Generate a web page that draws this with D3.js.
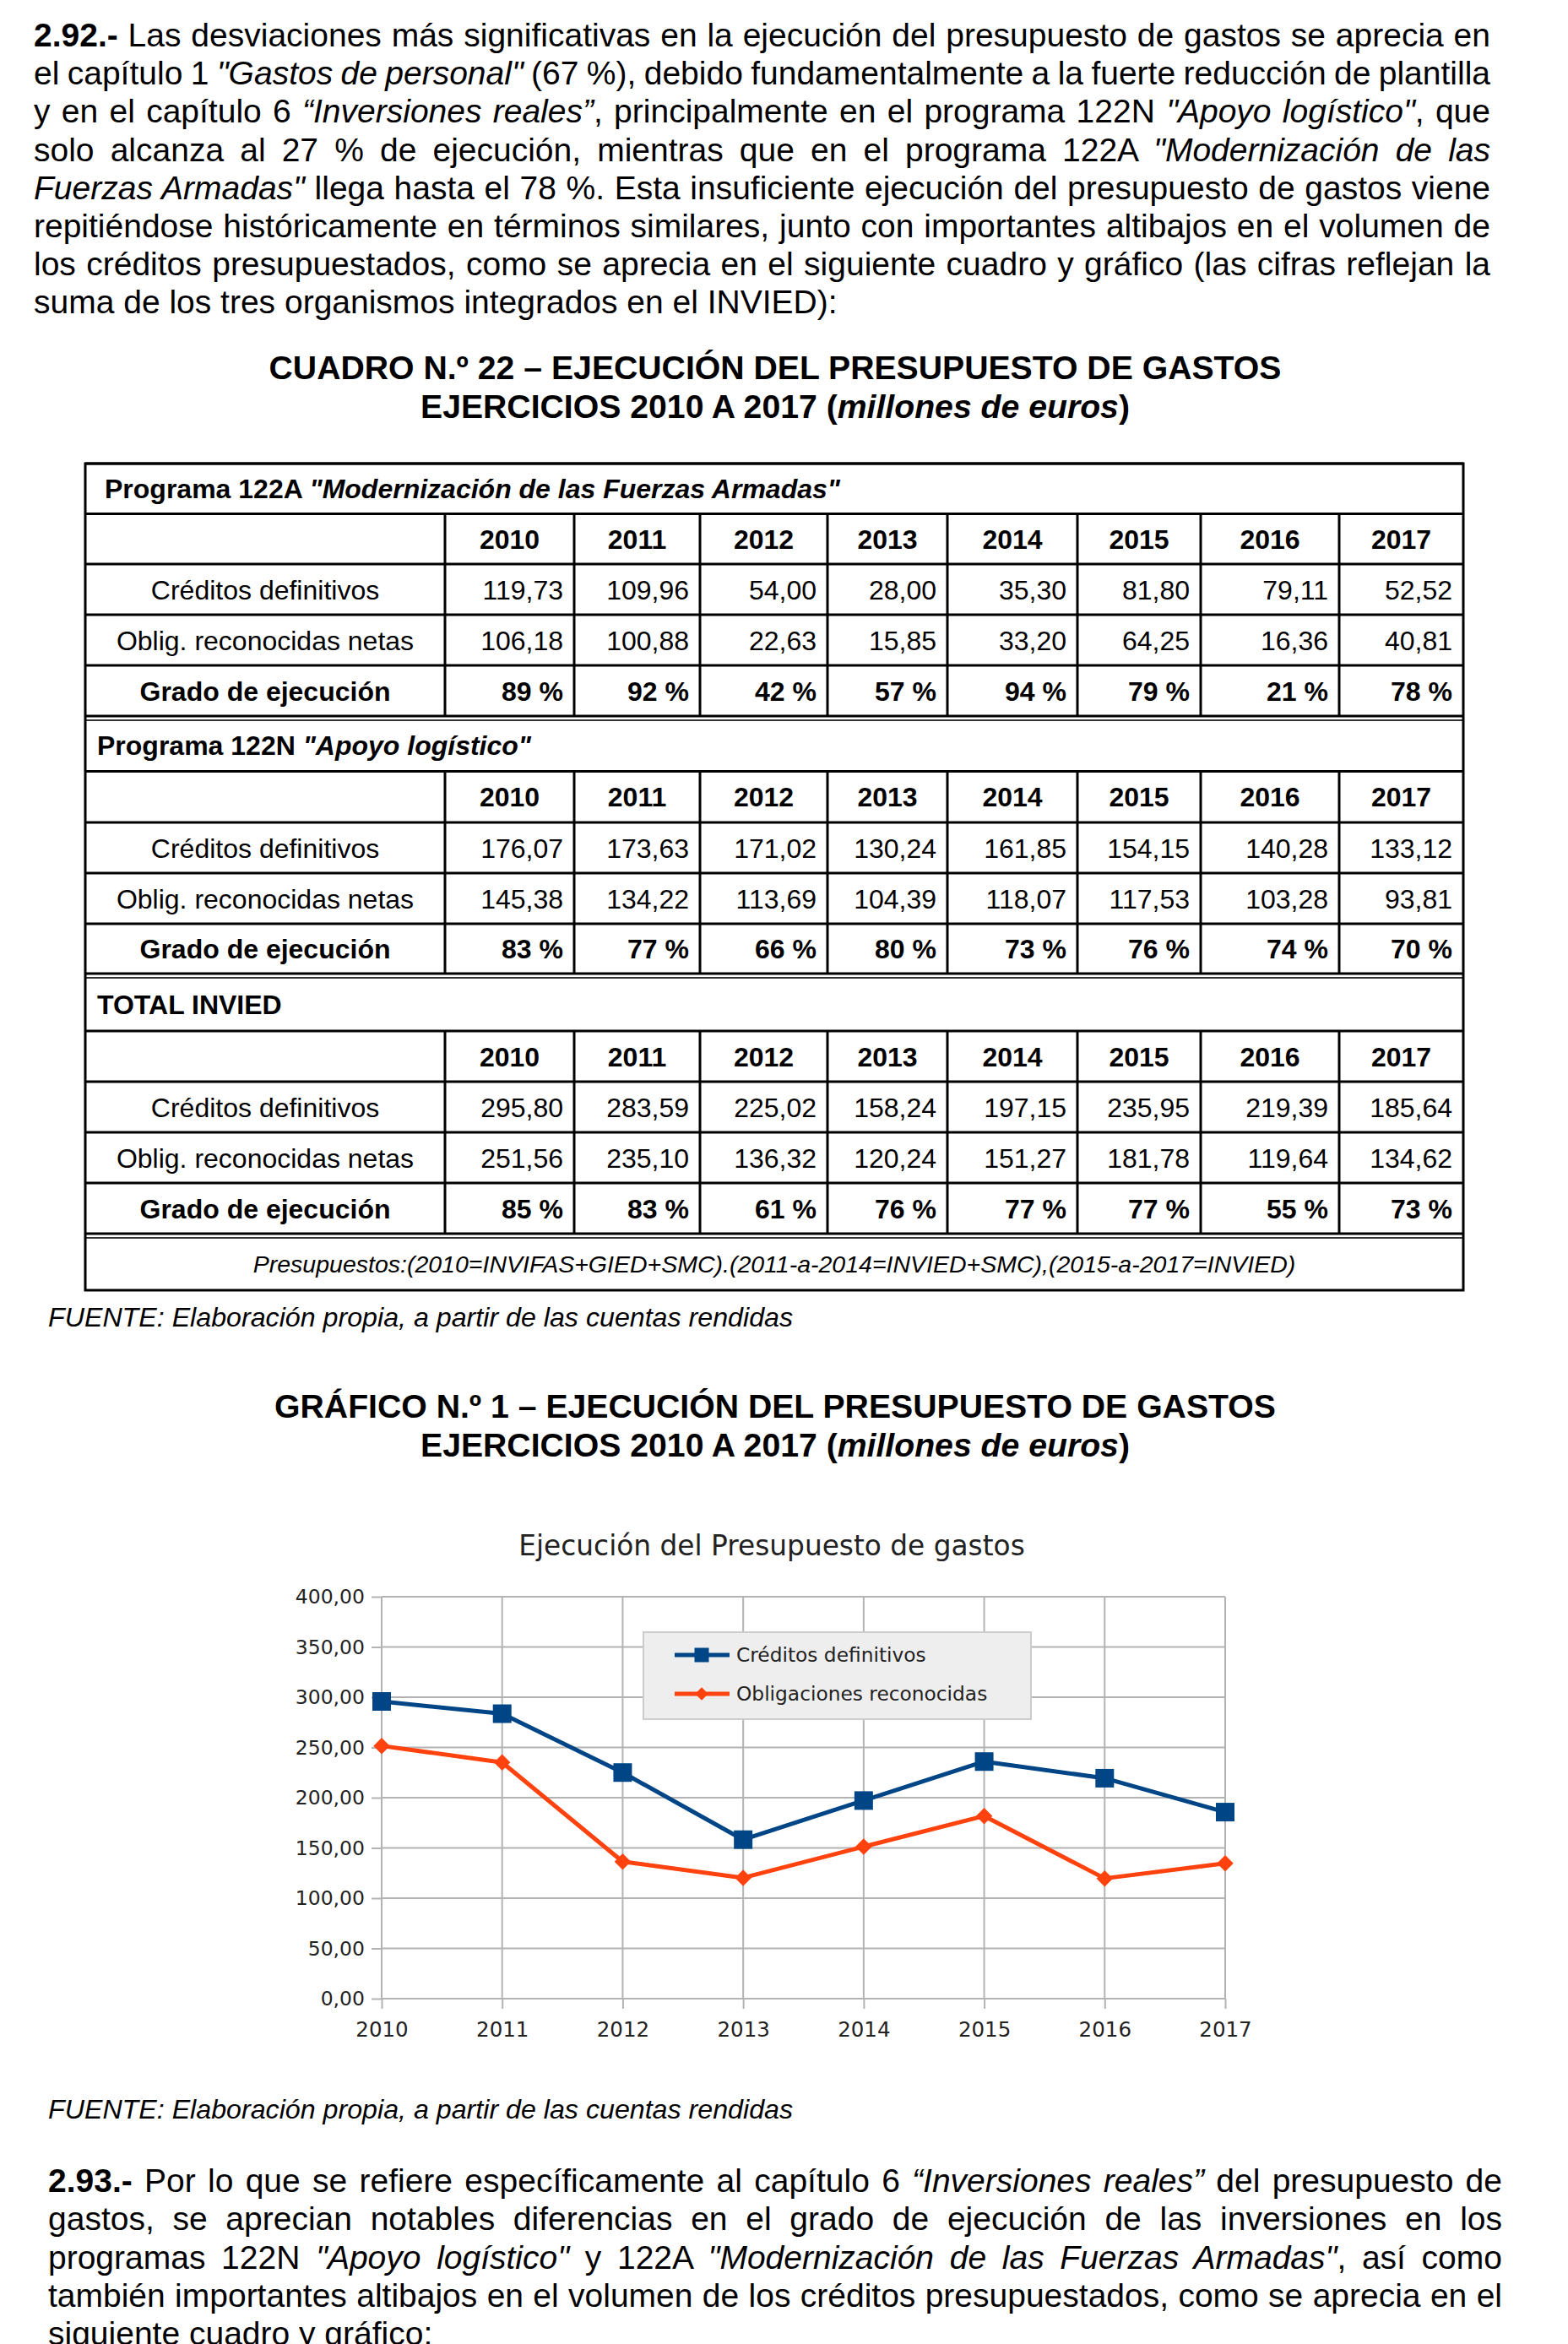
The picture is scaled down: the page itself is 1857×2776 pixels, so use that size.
<!DOCTYPE html>
<html><head><meta charset="utf-8">
<script src="https://cdn.jsdelivr.net/npm/d3@7"></script>
<style>
html,body{margin:0;padding:0;background:#fff;}
svg{display:block;}
text{white-space:pre;}
</style></head>
<body>
<svg id="page" width="1857" height="2776"></svg>
<script>
// ---------------- DATA ----------------
const years = [2010, 2011, 2012, 2013, 2014, 2015, 2016, 2017];
const rowLabels = ["Créditos definitivos", "Oblig. reconocidas netas", "Grado de ejecución"];

const p122ACreditos = [119.73, 109.96, 54.00, 28.00, 35.30, 81.80, 79.11, 52.52];
const p122AOblig    = [106.18, 100.88, 22.63, 15.85, 33.20, 64.25, 16.36, 40.81];
const p122AGrado    = [89, 92, 42, 57, 94, 79, 21, 78];

const p122NCreditos = [176.07, 173.63, 171.02, 130.24, 161.85, 154.15, 140.28, 133.12];
const p122NOblig    = [145.38, 134.22, 113.69, 104.39, 118.07, 117.53, 103.28, 93.81];
const p122NGrado    = [83, 77, 66, 80, 73, 76, 74, 70];

const totalCreditos = [295.80, 283.59, 225.02, 158.24, 197.15, 235.95, 219.39, 185.64];
const totalOblig    = [251.56, 235.10, 136.32, 120.24, 151.27, 181.78, 119.64, 134.62];
const totalGrado    = [85, 83, 61, 76, 77, 77, 55, 73];

const yTickValues = [0, 50, 100, 150, 200, 250, 300, 350, 400];
const seriesNames = ["Créditos definitivos", "Obligaciones reconocidas"];

const para1 = [
 "**2.92.-** Las desviaciones más significativas en la ejecución del presupuesto de gastos se aprecia en",
 "el capítulo 1 _\"Gastos de personal\"_ (67 %), debido fundamentalmente a la fuerte reducción de plantilla",
 "y en el capítulo 6 _“Inversiones reales”_, principalmente en el programa 122N _\"Apoyo logístico\"_, que",
 "solo alcanza al 27 % de ejecución, mientras que en el programa 122A _\"Modernización de las_",
 "_Fuerzas Armadas\"_ llega hasta el 78 %. Esta insuficiente ejecución del presupuesto de gastos viene",
 "repitiéndose históricamente en términos similares, junto con importantes altibajos en el volumen de",
 "los créditos presupuestados, como se aprecia en el siguiente cuadro y gráfico (las cifras reflejan la",
 "suma de los tres organismos integrados en el INVIED):"
];
const para2 = [
 "**2.93.-** Por lo que se refiere específicamente al capítulo 6 _“Inversiones reales”_ del presupuesto de",
 "gastos, se aprecian notables diferencias en el grado de ejecución de las inversiones en los",
 "programas 122N _\"Apoyo logístico\"_ y 122A _\"Modernización de las Fuerzas Armadas\"_, así como",
 "también importantes altibajos en el volumen de los créditos presupuestados, como se aprecia en el",
 "siguiente cuadro y gráfico:"
];
const cuadroTitle1 = "CUADRO N.º 22 – EJECUCIÓN DEL PRESUPUESTO DE GASTOS";
const graficoTitle1 = "GRÁFICO N.º 1 – EJECUCIÓN DEL PRESUPUESTO DE GASTOS";
const titleLine2 = "EJERCICIOS 2010 A 2017 (_millones de euros_)";
const fuente = "FUENTE: Elaboración propia, a partir de las cuentas rendidas";
const footnote = "Presupuestos:(2010=INVIFAS+GIED+SMC).(2011-a-2014=INVIED+SMC),(2015-a-2017=INVIED)";
const chartTitle = "Ejecución del Presupuesto de gastos";

// ---------------- HELPERS ----------------
const svg = d3.select("#page");
const SANS = "'Liberation Sans', Arial, sans-serif";
const CHARTF = "'DejaVu Sans', sans-serif";

function runs(s, allBold) {
  return s.split(/(\*\*[^*]+\*\*|_[^_]+_)/).filter(p => p.length).map(p => {
    if (p.startsWith("**")) return {t: p.slice(2, -2), b: true};
    if (p.length > 1 && p.startsWith("_") && p.endsWith("_")) return {t: p.slice(1, -1), i: true, b: allBold};
    return {t: p, b: allBold};
  });
}
function addText(g, x, y, s, size, opts) {
  opts = opts || {};
  const t = g.append("text").attr("x", x).attr("y", y)
    .attr("font-family", opts.family || SANS).attr("font-size", size)
    .attr("fill", opts.fill || "#000")
    .attr("text-anchor", opts.anchor || "start");
  runs(s, opts.bold).forEach(r => {
    t.append("tspan").attr("font-weight", r.b ? "bold" : "normal")
      .attr("font-style", (r.i || opts.italic) ? "italic" : "normal").text(r.t);
  });
  return t;
}
function justified(g, x, y, width, s, size, justify) {
  const t = addText(g, x, y, s, size);
  if (justify) {
    const nat = t.node().getComputedTextLength();
    const plain = runs(s).map(r => r.t).join("");
    const n = (plain.match(/ /g) || []).length;
    if (n > 0) t.style("word-spacing", ((width - nat) / n) + "px");
  }
}

// ---------------- PARAGRAPHS ----------------
const gp = svg.append("g");
para1.forEach((l, i) => justified(gp, 40, 55 + i * 45.2, 1725, l, 39, i < para1.length - 1));
para2.forEach((l, i) => justified(gp, 57, 2596 + i * 45.3, 1722, l, 39, i < para2.length - 1));

// titles
addText(gp, 918, 449, cuadroTitle1, 39.2, {anchor: "middle", bold: true});
addText(gp, 918, 495, titleLine2, 39.2, {anchor: "middle", bold: true});
addText(gp, 918, 1679, graficoTitle1, 39.2, {anchor: "middle", bold: true});
addText(gp, 918, 1725, titleLine2, 39.2, {anchor: "middle", bold: true});
addText(gp, 57, 1571, fuente, 32.2, {italic: true});
addText(gp, 57, 2509, fuente, 32.2, {italic: true});

// ---------------- TABLE ----------------
const fmt2 = d3.formatLocale({decimal: ",", thousands: ".", grouping: [3], currency: ["", "€"]}).format(".2f");
const colEdges = [101, 527, 680, 829, 980, 1122, 1276, 1422, 1586, 1733];
const tbl = svg.append("g");
const sections = [
  {title: "**Programa 122A** _\"Modernización de las Fuerzas Armadas\"_", tx: 124,
   lines: [549, 608.5, 668, 728, 788, 848], rows: [p122ACreditos, p122AOblig, p122AGrado]},
  {title: "**Programa 122N** _\"Apoyo logístico\"_", tx: 115,
   lines: [853, 913.5, 974, 1034, 1094, 1153], rows: [p122NCreditos, p122NOblig, p122NGrado]},
  {title: "**TOTAL INVIED**", tx: 115,
   lines: [1158, 1221, 1281, 1341, 1401, 1461], rows: [totalCreditos, totalOblig, totalGrado]}
];
sections.forEach((sec, si) => {
  const L = sec.lines;
  L.forEach((yy, k) => {
    tbl.append("line").attr("x1", colEdges[0]).attr("x2", colEdges[colEdges.length - 1])
      .attr("y1", yy).attr("y2", yy)
      .attr("stroke", (k === 0 && si > 0) ? "#333" : "#000")
      .attr("stroke-width", (k === 0 && si > 0) ? 2 : 3);
  });
  colEdges.slice(1, -1).forEach(xx => {
    tbl.append("line").attr("x1", xx).attr("x2", xx).attr("y1", L[1]).attr("y2", L[5])
      .attr("stroke", "#000").attr("stroke-width", 3);
  });
  const tt = addText(tbl, sec.tx, (L[0] + L[1]) / 2 + 11, sec.title, 32);
  tt.selectAll("tspan").attr("font-weight", "bold");
  years.forEach((yr, j) => {
    addText(tbl, (colEdges[j + 1] + colEdges[j + 2]) / 2, (L[1] + L[2]) / 2 + 11.5, String(yr), 32,
      {anchor: "middle", bold: true});
  });
  sec.rows.forEach((vals, r) => {
    const cy = (L[r + 2] + L[r + 3]) / 2 + 11.5;
    const isPct = r === 2;
    addText(tbl, (colEdges[0] + colEdges[1]) / 2, cy, rowLabels[r], 32, {anchor: "middle", bold: isPct});
    vals.forEach((v, j) => {
      addText(tbl, colEdges[j + 2] - 13, cy, isPct ? (v + " %") : fmt2(v), 32,
        {anchor: "end", bold: isPct});
    });
  });
});
tbl.append("line").attr("x1", 101).attr("x2", 1733).attr("y1", 1466).attr("y2", 1466)
  .attr("stroke", "#333").attr("stroke-width", 2);
addText(tbl, 917, 1507, footnote, 28.5, {anchor: "middle", italic: true});
tbl.append("rect").attr("x", 101).attr("y", 549).attr("width", 1632).attr("height", 979)
  .attr("fill", "none").attr("stroke", "#000").attr("stroke-width", 3);

// ---------------- CHART ----------------
const ch = svg.append("g");
const x = d3.scalePoint().domain(years).range([452, 1451]);
const y = d3.scaleLinear().domain([0, 400]).range([2367, 1891]);
const grid = "#b3b3b3";

ch.append("g").selectAll("line").data(yTickValues).join("line")
  .attr("x1", x(years[0])).attr("x2", x(years[years.length - 1]))
  .attr("y1", d => y(d)).attr("y2", d => y(d)).attr("stroke", grid).attr("stroke-width", 2);
ch.append("g").selectAll("line").data(years).join("line")
  .attr("x1", d => x(d)).attr("x2", d => x(d))
  .attr("y1", y(400)).attr("y2", y(0)).attr("stroke", grid).attr("stroke-width", 2);

const yAxis = ch.append("g").attr("transform", `translate(${x(years[0])},0)`)
  .call(d3.axisLeft(y).tickValues(yTickValues).tickSize(12).tickPadding(8)
    .tickFormat(d => d3.format(".2f")(d).replace(".", ",")));
const xAxis = ch.append("g").attr("transform", `translate(0,${y(0)})`)
  .call(d3.axisBottom(x).tickSize(12).tickPadding(16));
[yAxis, xAxis].forEach(a => {
  a.select(".domain").remove();
  a.selectAll(".tick line").attr("stroke", grid).attr("stroke-width", 2);
  a.selectAll("text").attr("font-family", CHARTF).attr("fill", "#222");
});
yAxis.selectAll("text").attr("font-size", 23.5);
xAxis.selectAll("text").attr("font-size", 24.5);

ch.append("text").attr("x", 914).attr("y", 1842).attr("text-anchor", "middle")
  .attr("font-family", CHARTF).attr("font-size", 32.8).attr("fill", "#222").text(chartTitle);

const colors = ["#004586", "#ff420e"];
const seriesData = [totalCreditos, totalOblig];
const line = d3.line().x((d, i) => x(years[i])).y(d => y(d));
const sq = d3.symbol().type(d3.symbolSquare);
seriesData.forEach((vals, s) => {
  ch.append("path").attr("d", line(vals)).attr("fill", "none")
    .attr("stroke", colors[s]).attr("stroke-width", 5).attr("stroke-linejoin", "round");
  ch.append("g").selectAll("path").data(vals).join("path")
    .attr("transform", (d, i) => `translate(${x(years[i])},${y(d)})` + (s === 1 ? " rotate(45)" : ""))
    .attr("d", s === 0 ? sq.size(484)() : sq.size(190)())
    .attr("fill", colors[s]);
});

// legend
const lg = ch.append("g");
lg.append("rect").attr("x", 762).attr("y", 1933).attr("width", 459).attr("height", 103)
  .attr("fill", "#eeeeee").attr("stroke", "#cccccc").attr("stroke-width", 2);
seriesNames.forEach((nm, s) => {
  const ly = 1960 + s * 46;
  lg.append("line").attr("x1", 799).attr("x2", 864).attr("y1", ly).attr("y2", ly)
    .attr("stroke", colors[s]).attr("stroke-width", 5);
  lg.append("path").attr("transform", `translate(831,${ly})` + (s === 1 ? " rotate(45)" : ""))
    .attr("d", s === 0 ? sq.size(289)() : sq.size(120)()).attr("fill", colors[s]);
  lg.append("text").attr("x", 872).attr("y", ly + 8).attr("font-family", CHARTF)
    .attr("font-size", 23.3).attr("fill", "#222").text(nm);
});
</script>
</body></html>
